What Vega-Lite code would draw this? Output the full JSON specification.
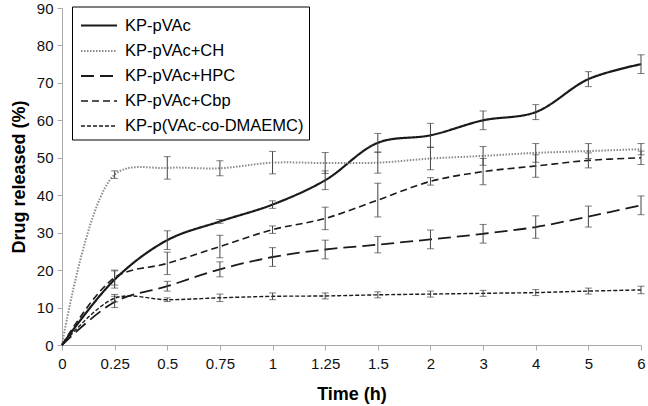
{
  "$schema": "https://vega.github.io/schema/vega-lite/v6.json",
  "width": 579,
  "height": 337,
  "autosize": "none",
  "padding": {"left": 62, "top": 8, "right": 7, "bottom": 61},
  "background": "white",
  "config": {
    "view": {"stroke": null},
    "font": "Liberation Sans"
  },
  "data": {
    "values": [
      {"series": "KP-pVAc", "t": "0", "y": 0, "err": 0},
      {"series": "KP-pVAc", "t": "0.25", "y": 17.5, "err": 2.3},
      {"series": "KP-pVAc", "t": "0.5", "y": 28, "err": 2.5},
      {"series": "KP-pVAc", "t": "0.75", "y": 33, "err": 0.5},
      {"series": "KP-pVAc", "t": "1", "y": 37.5, "err": 1},
      {"series": "KP-pVAc", "t": "1.25", "y": 44, "err": 2.5},
      {"series": "KP-pVAc", "t": "1.5", "y": 54, "err": 2.5},
      {"series": "KP-pVAc", "t": "2", "y": 56, "err": 3.2},
      {"series": "KP-pVAc", "t": "3", "y": 60, "err": 2.5},
      {"series": "KP-pVAc", "t": "4", "y": 62.2, "err": 2},
      {"series": "KP-pVAc", "t": "5", "y": 71, "err": 2},
      {"series": "KP-pVAc", "t": "6", "y": 75, "err": 2.5},
      {"series": "KP-pVAc+CH", "t": "0", "y": 0, "err": 0},
      {"series": "KP-pVAc+CH", "t": "0.25", "y": 45.5, "err": 1},
      {"series": "KP-pVAc+CH", "t": "0.5", "y": 47.3, "err": 3},
      {"series": "KP-pVAc+CH", "t": "0.75", "y": 47.2, "err": 2},
      {"series": "KP-pVAc+CH", "t": "1", "y": 48.7, "err": 3},
      {"series": "KP-pVAc+CH", "t": "1.25", "y": 48.6, "err": 2.8},
      {"series": "KP-pVAc+CH", "t": "1.5", "y": 48.7, "err": 2.8},
      {"series": "KP-pVAc+CH", "t": "2", "y": 49.8, "err": 3},
      {"series": "KP-pVAc+CH", "t": "3", "y": 50.5, "err": 2.5},
      {"series": "KP-pVAc+CH", "t": "4", "y": 51.3, "err": 2.5},
      {"series": "KP-pVAc+CH", "t": "5", "y": 51.8, "err": 2},
      {"series": "KP-pVAc+CH", "t": "6", "y": 52.3, "err": 1.5},
      {"series": "KP-pVAc+HPC", "t": "0", "y": 0, "err": 0},
      {"series": "KP-pVAc+HPC", "t": "0.25", "y": 11.5, "err": 1.5},
      {"series": "KP-pVAc+HPC", "t": "0.5", "y": 15.7, "err": 1.3},
      {"series": "KP-pVAc+HPC", "t": "0.75", "y": 20.2, "err": 2},
      {"series": "KP-pVAc+HPC", "t": "1", "y": 23.5, "err": 2.5},
      {"series": "KP-pVAc+HPC", "t": "1.25", "y": 25.5, "err": 2.5},
      {"series": "KP-pVAc+HPC", "t": "1.5", "y": 26.8, "err": 2.2},
      {"series": "KP-pVAc+HPC", "t": "2", "y": 28.2, "err": 2.5},
      {"series": "KP-pVAc+HPC", "t": "3", "y": 29.7, "err": 2.5},
      {"series": "KP-pVAc+HPC", "t": "4", "y": 31.5, "err": 3},
      {"series": "KP-pVAc+HPC", "t": "5", "y": 34.3, "err": 2.8},
      {"series": "KP-pVAc+HPC", "t": "6", "y": 37.3, "err": 2.5},
      {"series": "KP-pVAc+Cbp", "t": "0", "y": 0, "err": 0},
      {"series": "KP-pVAc+Cbp", "t": "0.25", "y": 18, "err": 2},
      {"series": "KP-pVAc+Cbp", "t": "0.5", "y": 21.8, "err": 3},
      {"series": "KP-pVAc+Cbp", "t": "0.75", "y": 26.3, "err": 3},
      {"series": "KP-pVAc+Cbp", "t": "1", "y": 30.8, "err": 1},
      {"series": "KP-pVAc+Cbp", "t": "1.25", "y": 33.8, "err": 3},
      {"series": "KP-pVAc+Cbp", "t": "1.5", "y": 38.7, "err": 4.5},
      {"series": "KP-pVAc+Cbp", "t": "2", "y": 43.7, "err": 1},
      {"series": "KP-pVAc+Cbp", "t": "3", "y": 46.3, "err": 3.5},
      {"series": "KP-pVAc+Cbp", "t": "4", "y": 47.8, "err": 3},
      {"series": "KP-pVAc+Cbp", "t": "5", "y": 49.3, "err": 2},
      {"series": "KP-pVAc+Cbp", "t": "6", "y": 50, "err": 1.8},
      {"series": "KP-p(VAc-co-DMAEMC)", "t": "0", "y": 0, "err": 0},
      {"series": "KP-p(VAc-co-DMAEMC)", "t": "0.25", "y": 12.5, "err": 1},
      {"series": "KP-p(VAc-co-DMAEMC)", "t": "0.5", "y": 12.1, "err": 0.5},
      {"series": "KP-p(VAc-co-DMAEMC)", "t": "0.75", "y": 12.6, "err": 1},
      {"series": "KP-p(VAc-co-DMAEMC)", "t": "1", "y": 13, "err": 0.9},
      {"series": "KP-p(VAc-co-DMAEMC)", "t": "1.25", "y": 13.1, "err": 0.8},
      {"series": "KP-p(VAc-co-DMAEMC)", "t": "1.5", "y": 13.4, "err": 0.8},
      {"series": "KP-p(VAc-co-DMAEMC)", "t": "2", "y": 13.6, "err": 0.8},
      {"series": "KP-p(VAc-co-DMAEMC)", "t": "3", "y": 13.8, "err": 0.8},
      {"series": "KP-p(VAc-co-DMAEMC)", "t": "4", "y": 14, "err": 0.8},
      {"series": "KP-p(VAc-co-DMAEMC)", "t": "5", "y": 14.4, "err": 0.8},
      {"series": "KP-p(VAc-co-DMAEMC)", "t": "6", "y": 14.7, "err": 1}
    ]
  },
  "encoding": {
    "x": {
      "field": "t",
      "type": "ordinal",
      "sort": ["0", "0.25", "0.5", "0.75", "1", "1.25", "1.5", "2", "3", "4", "5", "6"],
      "scale": {"type": "point", "padding": 0},
      "axis": {
        "title": "Time (h)",
        "titleFont": "Liberation Sans",
        "titleFontSize": 18,
        "titleFontWeight": "bold",
        "titleColor": "#000",
        "titlePadding": 14,
        "labelFont": "Liberation Sans",
        "labelFontSize": 15,
        "labelColor": "#111",
        "labelAngle": 0,
        "labelPadding": 6,
        "domainColor": "#aaa",
        "tickColor": "#aaa",
        "tickSize": 5,
        "grid": false
      }
    },
    "y": {
      "field": "y",
      "type": "quantitative",
      "scale": {"domain": [0, 90], "nice": false},
      "axis": {
        "title": "Drug released (%)",
        "titleFont": "Liberation Sans",
        "titleFontSize": 18,
        "titleFontWeight": "bold",
        "titleColor": "#000",
        "titlePadding": 8,
        "values": [0, 10, 20, 30, 40, 50, 60, 70, 80, 90],
        "labelFont": "Liberation Sans",
        "labelFontSize": 15,
        "labelColor": "#111",
        "labelPadding": 4,
        "domainColor": "#aaa",
        "tickColor": "#aaa",
        "tickSize": 5,
        "grid": false
      }
    }
  },
  "layer": [
    {
      "mark": {"type": "line", "interpolate": "catmull-rom"},
      "encoding": {
        "color": {
          "field": "series",
          "type": "nominal",
          "scale": {
            "domain": ["KP-pVAc", "KP-pVAc+CH", "KP-pVAc+HPC", "KP-pVAc+Cbp", "KP-p(VAc-co-DMAEMC)"],
            "range": ["#1a1a1a", "#8a8a8a", "#1a1a1a", "#1a1a1a", "#1a1a1a"]
          },
          "legend": {
            "title": null,
            "orient": "none",
            "legendX": 10,
            "legendY": -1.5,
            "direction": "vertical",
            "fillColor": "white",
            "strokeColor": "#000",
            "padding": 5,
            "symbolOffset": 8,
            "labelFont": "Liberation Sans",
            "labelFontSize": 16.5,
            "labelColor": "#000",
            "labelOffset": 12,
            "symbolType": "M-1.44,0H1.44",
            "symbolSize": 625,
            "rowPadding": 3,
            "labelLimit": 300
          }
        },
        "strokeDash": {
          "field": "series",
          "type": "nominal",
          "scale": {
            "domain": ["KP-pVAc", "KP-pVAc+CH", "KP-pVAc+HPC", "KP-pVAc+Cbp", "KP-p(VAc-co-DMAEMC)"],
            "range": [[1, 0], [1.5, 1.5], [13, 6], [7, 4], [4, 2]]
          }
        },
        "strokeWidth": {
          "field": "series",
          "type": "nominal",
          "scale": {
            "domain": ["KP-pVAc", "KP-pVAc+CH", "KP-pVAc+HPC", "KP-pVAc+Cbp", "KP-p(VAc-co-DMAEMC)"],
            "range": [2.2, 1.4, 2.2, 2.2, 2.2]
          }
        }
      }
    },
    {
      "transform": [{"filter": "datum.err > 0"}],
      "mark": {"type": "errorbar", "color": "#444", "thickness": 1, "ticks": {"size": 7, "color": "#444", "thickness": 1}},
      "encoding": {
        "yError": {"field": "err"}
      }
    }
  ]
}
